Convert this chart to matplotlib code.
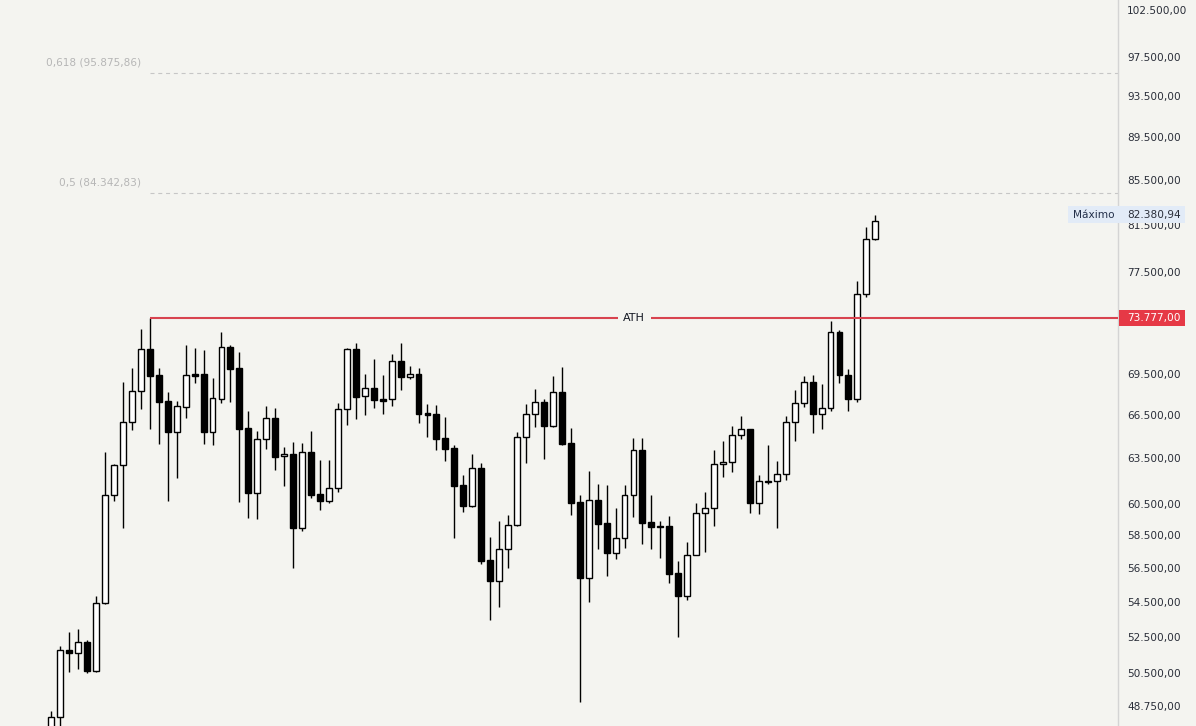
import matplotlib
matplotlib.use('Agg')
import matplotlib.pyplot as plt
from matplotlib.ticker import FixedLocator, NullLocator, FixedFormatter
from matplotlib.patches import Rectangle
import numpy as np

# ---------------- data ----------------
opens = [47400, 48200, 51750, 51570, 52180, 50620, 54400, 61050, 63040, 66000,
         68240, 71350, 69400, 67500, 65340, 67110, 69490, 69490, 65340, 67680,
         71500, 69940, 65600, 61180, 64810, 66280, 63640, 63800, 58970, 63920,
         61130, 60700, 61510, 66920, 71350, 67850, 68440, 67660, 67640, 70440,
         69250, 69490, 66640, 66590, 64880, 64180, 61700, 60340, 62830, 56950,
         55730, 57630, 59120, 64950, 66560, 67420, 65720, 68150, 64530, 60600,
         55910, 60720, 59250, 57420, 58310, 61050, 64050, 59330, 59100, 59080,
         56160, 54810, 57260, 59890, 60210, 63100, 63240, 65090, 65500, 60530,
         62010, 62010, 62430, 66000, 67370, 68920, 66560, 66990, 72660, 69400,
         67680, 75710, 80240]
highs = [48500, 51950, 52750, 52900, 52310, 54830, 63940, 63100, 68900, 69940,
         72910, 73777, 69920, 68150, 67520, 71680, 71425, 71295, 69195, 72680,
         71680, 71145, 66800, 65390, 67160, 66990, 64280, 64600, 64550, 65390,
         63390, 63390, 67370, 71420, 71850, 69490, 70610, 69440, 70990, 71850,
         70080, 69920, 67300, 67200, 66370, 64420, 62390, 63780, 63180, 58390,
         59380, 59780, 65300, 67300, 68380, 67640, 69350, 70010, 65600, 61070,
         62650, 61790, 61700, 60230, 61720, 64900, 64900, 61070, 59420, 59720,
         56930, 58050, 60570, 61270, 64080, 64710, 65740, 66440, 65520, 62390,
         64420, 63330, 66440, 68290, 69350, 69440, 68750, 73540, 72830, 69840,
         76740, 81330, 82380.94]
lows = [46900, 47600, 50570, 50700, 50480, 50540, 54350, 60700, 58970, 65460,
        66960, 65550, 64490, 60680, 62210, 66320, 68850, 64490, 64440, 67400,
        67470, 60630, 59590, 59520, 64160, 62740, 61680, 56510, 58790, 60850,
        60100, 60570, 61270, 65830, 66230, 66510, 67030, 66610, 67160, 68330,
        69100, 65970, 64990, 64050, 63350, 58330, 59990, 60320, 56750, 53460,
        54200, 56510, 59110, 63210, 65690, 63440, 65700, 64440, 59800, 48980,
        54490, 57630, 56000, 57030, 57710, 59650, 57980, 57670, 57070, 55580,
        52500, 54590, 57250, 57450, 59100, 62270, 62610, 64810, 59930, 59840,
        61770, 58930, 62060, 64710, 67110, 65230, 65550, 66820, 68810, 66780,
        67420, 75460, 80150]
closes = [48200, 51750, 51570, 52180, 50620, 54400, 61050, 63060, 66000, 68240,
          71350, 69370, 67470, 65340, 67140, 69400, 69370, 65340, 67710, 71500,
          69890, 65550, 61180, 64810, 66280, 63620, 63800, 58970, 63920, 61090,
          60700, 61510, 66920, 71350, 67820, 68440, 67570, 67540, 70440, 69250,
          69470, 66610, 66540, 64850, 64160, 61680, 60340, 62830, 56930, 55730,
          57630, 59120, 64950, 66560, 67420, 65720, 68150, 64510, 60570, 55910,
          60720, 59220, 57420, 58310, 61050, 64050, 59290, 59040, 59040, 56140,
          54810, 57260, 59890, 60210, 63100, 63240, 65090, 65500, 60530, 61970,
          61920, 62430, 66000, 67370, 68920, 66560, 66990, 72660, 69400, 67680,
          75710, 80240, 81850]

ath_value = 73777.0
ath_start = 11          # candle index where the ATH was set
ath_label = "ATH"
fib_ratios = ["0,618", "0,5"]
fib_values = [95875.86, 84342.83]
max_value = 82380.94
max_label = "Máximo"
ytick_values = [102500, 97500, 93500, 89500, 85500, 81500, 77500, 69500,
                66500, 63500, 60500, 58500, 56500, 54500, 52500, 50500, 48750]


def fmt_br(v):
    s = f"{v:,.2f}"
    return s.replace(',', 'X').replace('.', ',').replace('X', '.')


# ---------------- figure ----------------
W, H = 1196, 726
AXW = 1118
bg = '#f4f4f0'
fig = plt.figure(figsize=(W / 100, H / 100), dpi=100)
fig.patch.set_facecolor(bg)
ax = fig.add_axes([0, 0, AXW / W, 1])
ax.set_facecolor(bg)
ax.set_yscale('log')

o = np.array(opens, float)
h = np.array(highs, float)
l = np.array(lows, float)
c = np.array(closes, float)
n = len(o)
x = np.arange(n)

xmin, xmax = -5.73, 119.1
ax.set_xlim(xmin, xmax)
ax.set_ylim(47720, 103600)

# wicks and bodies
ax.vlines(x, l, h, color='black', lw=1.0, zorder=2)
up = c >= o
bottoms = np.minimum(o, c)
heights = np.abs(c - o)
heights = np.maximum(heights, bottoms * 0.0004)
ax.bar(x, heights, bottom=bottoms, width=0.66,
       color=np.where(up, 'white', 'black'), edgecolor='black', lw=1.0, zorder=3)

# ATH line
ax.plot([ath_start, xmax], [ath_value, ath_value], color='#d8434f', lw=1.5,
        zorder=4, solid_capstyle='butt')
ath_x = 65.06
ax.text(ath_x, ath_value, ath_label, ha='center', va='center', fontsize=8,
        color='#131722', zorder=5,
        bbox=dict(boxstyle='square,pad=0.5', fc=bg, ec='none'))

# Fibonacci levels
for r, v in zip(fib_ratios, fib_values):
    ax.plot([ath_start, xmax], [v, v], color='#c6c6c6', lw=0.8,
            dashes=(3.6, 3.4), zorder=1)
    ax.annotate(f"{r} ({fmt_br(v)})", xy=(10.0, v), xytext=(0, 3.5),
                textcoords='offset points', ha='right', va='bottom',
                fontsize=7.6, color='#b6b6b6')

# axes styling
for s in ['top', 'left', 'bottom']:
    ax.spines[s].set_visible(False)
ax.spines['right'].set_color('#d4d4d4')
ax.spines['right'].set_linewidth(1.0)
ax.set_xticks([])
ax.yaxis.set_major_locator(FixedLocator(ytick_values))
ax.yaxis.set_major_formatter(FixedFormatter([fmt_br(v) for v in ytick_values]))
ax.yaxis.set_minor_locator(NullLocator())
ax.tick_params(axis='y', which='both', length=0, pad=6.5, labelsize=7.6,
               labelcolor='#2a2e39', left=False, labelleft=False,
               right=True, labelright=True)

# price labels on the right scale
fig.canvas.draw()


def ypix(v):
    return ax.transData.transform((0, v))[1]  # from bottom


# Maximum label
ym = ypix(max_value)
fig.patches.append(Rectangle((1068 / W, (ym - 8.5) / H), 117 / W, 17 / H,
                             transform=fig.transFigure, fc='#e2ebf7', ec='none',
                             zorder=5))
fig.text(1073 / W, ym / H, max_label, ha='left', va='center', fontsize=7.6,
         color='#24304a', zorder=6)
fig.text(1127 / W, ym / H, fmt_br(max_value), ha='left', va='center',
         fontsize=7.6, color='#2a2e39', zorder=6)

# ATH price label
ya = ypix(ath_value)
fig.patches.append(Rectangle((1119 / W, (ya - 8.3) / H), 66 / W, 16.6 / H,
                             transform=fig.transFigure, fc='#e63946', ec='none',
                             zorder=5))
fig.text(1127 / W, ya / H, fmt_br(ath_value), ha='left', va='center',
         fontsize=7.6, color='white', zorder=6)

fig.savefig('out.png', dpi=100, facecolor=bg)
